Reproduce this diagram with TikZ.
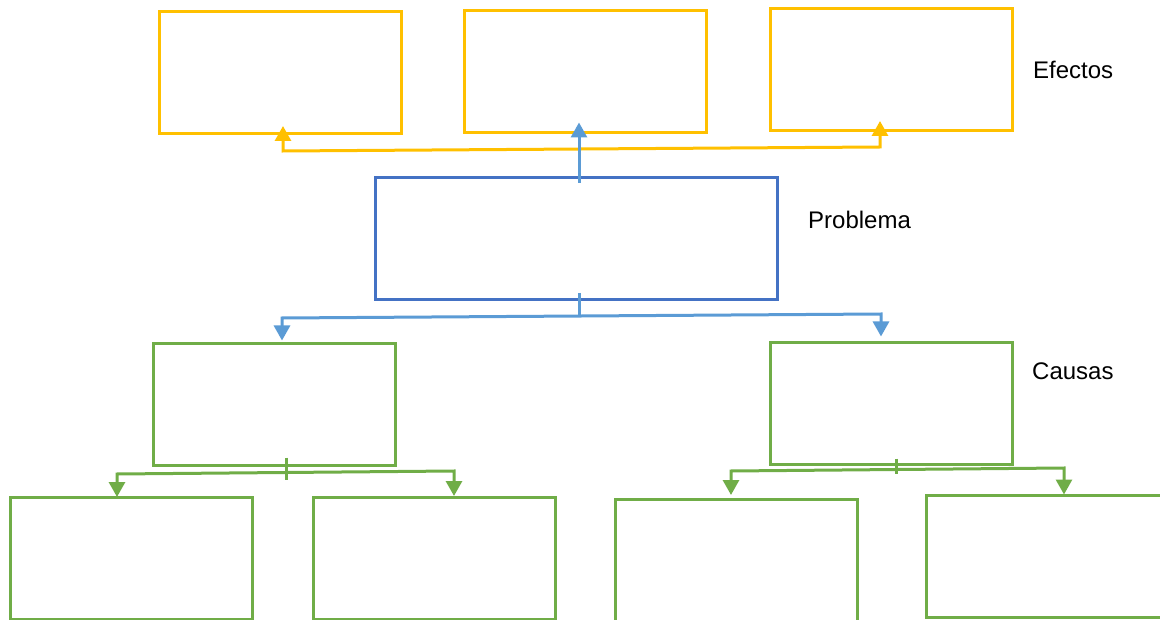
\documentclass[tikz,border=0pt]{standalone}
\usepackage{fontspec}
\setmainfont{Liberation Sans}
\usetikzlibrary{arrows.meta,calc}
\definecolor{yel}{HTML}{FFC000}
\definecolor{boxblue}{HTML}{4472C4}
\definecolor{arrblue}{HTML}{5B9BD5}
\definecolor{grn}{HTML}{70AD47}
\tikzset{
  box/.style={draw,line width=3pt,inner sep=0pt,outer sep=0pt,minimum width=242pt,minimum height=122pt},
  ybox/.style={box,draw=yel},
  bbox/.style={box,draw=boxblue,minimum width=402pt},
  gbox/.style={box,draw=grn},
  conn/.style={line width=3pt},
  tip/.style={-{Triangle[width=16pt,length=15pt]}},
  tips/.style={{Triangle[width=16pt,length=15pt]}-{Triangle[width=16pt,length=15pt]}},
  lbl/.style={anchor=west,inner sep=0pt,font=\fontsize{24}{28}\selectfont}
}
\begin{document}
\begin{tikzpicture}[x=1pt,y=-1pt]
\useasboundingbox (0,0) rectangle (1160,620);
% effects
\node[ybox] (e1) at (280,73) {};
\node[ybox] (e2) at (585,71.5) {};
\node[ybox] (e3) at (891,70) {};
% problem
\node[bbox] (pr) at (576,239) {};
% causes
\node[gbox] (c1) at (274,404.5) {};
\node[gbox] (c2) at (891,403.5) {};
% sub causes
\node[gbox] (s1) at (131,558) {};
\node[gbox] (s2) at (434,558) {};
\node[gbox] (s3) at (736,560) {};
\node[gbox,minimum width=244pt] (s4) at (1048,556.5) {};
% labels
\node[lbl] (tef) at (1033,70) {Efectos};
\node[lbl] (tpr) at (808,220) {Problema};
\node[lbl] (tca) at (1032,371) {Causas};
% yellow connector
\coordinate (ya) at (283,151);
\coordinate (yb) at (880,147);
\draw[conn,draw=yel,tips] ($(e1.south -| ya)+(0,-8)$) -- (ya) -- (yb) -- ($(e3.south -| yb)+(0,-10)$);
% blue connectors
\coordinate (bx) at (579,0);
\draw[conn,draw=arrblue,tip] ($(pr.north -| bx)+(0,5)$) -- ($(e2.south -| bx)+(0,-10)$);
\coordinate (bl) at (282,318);
\coordinate (br) at (881,314);
\coordinate (bm) at (579,316.5);
\draw[conn,draw=arrblue] ($(pr.south -| bx)+(0,-7)$) -- (bm);
\draw[conn,draw=arrblue,tips] ($(c1.north -| bl)+(0,-3)$) -- (bl) -- (br) -- ($(c2.north -| br)+(0,-6)$);
% green connectors left
\coordinate (gl1) at (117,474);
\coordinate (gr1) at (454,471);
\draw[conn,draw=grn] ($(c1.south)+(12,-8)$) -- ++(0,22);
\draw[conn,draw=grn,tips] (s1.north -| gl1) -- (gl1) -- (gr1) -- ($(s2.north -| gr1)+(0,-1)$);
% green connectors right
\coordinate (gl2) at (731,471);
\coordinate (gr2) at (1064,468);
\draw[conn,draw=grn] ($(c2.south)+(5,-6)$) -- ++(0,15);
\draw[conn,draw=grn,tips] ($(s3.north -| gl2)+(0,-4)$) -- (gl2) -- (gr2) -- ($(s4.north -| gr2)+(0,-1)$);
\end{tikzpicture}
\end{document}
